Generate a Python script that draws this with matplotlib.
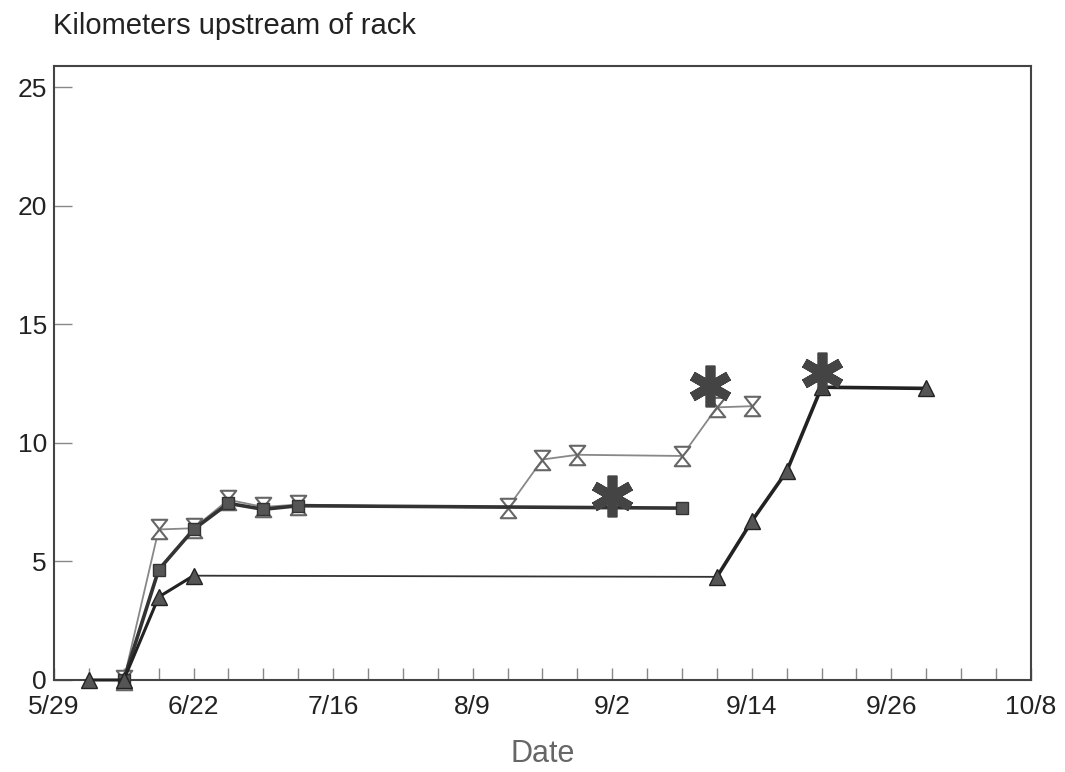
import matplotlib.pyplot as plt
from matplotlib.path import Path

plt.rcParams['font.family'] = ['Liberation Sans', 'DejaVu Sans']

# x positions are minor-tick steps along the date axis (labels every 4 steps)
date_labels = ['5/29', '6/22', '7/16', '8/9', '9/2', '9/14', '9/26', '10/8']

# triangle fish
tri_x = [1, 2, 3, 4, 19, 20, 21, 22, 25]
tri_y = [0, 0, 3.5, 4.4, 4.35, 6.7, 8.8, 12.35, 12.3]

# square fish
sq_x = [2, 3, 4, 5, 6, 7, 18]
sq_y = [0, 4.65, 6.35, 7.45, 7.2, 7.35, 7.25]

# hourglass fish
hg_x = [2, 3, 4, 5, 6, 7, 13, 14, 15, 18, 19, 20]
hg_y = [0, 6.35, 6.4, 7.6, 7.3, 7.4, 7.25, 9.3, 9.5, 9.45, 11.5, 11.55]

# asterisks
star_x = [16, 18.8, 22]
star_y = [7.75, 12.4, 12.95]

hourglass = Path([(-0.8, 1), (0.8, 1), (-0.8, -1), (0.8, -1), (-0.8, 1)],
                 [Path.MOVETO, Path.LINETO, Path.LINETO, Path.LINETO, Path.CLOSEPOLY])

fig = plt.figure(figsize=(10.65, 7.72), dpi=100)
ax = fig.add_axes([0.0507, 0.1192, 0.9173, 0.7953])

ax.plot(hg_x, hg_y, color='#888888', lw=1.3, marker=hourglass, ms=14,
        mfc='white', mec='#666666', mew=1.5, zorder=3, clip_on=False)
ax.plot(sq_x, sq_y, color='#333333', lw=2.6, marker='s', ms=9,
        mfc='#555555', mec='#333333', zorder=4, clip_on=False)
# triangle track: thick climbs, thin long hold
ax.plot(tri_x[:4], tri_y[:4], color='#222222', lw=2.2, zorder=5, clip_on=False)
ax.plot(tri_x[3:5], tri_y[3:5], color='#333333', lw=1.3, zorder=5)
ax.plot(tri_x[4:], tri_y[4:], color='#222222', lw=2.6, zorder=5)
ax.plot(tri_x, tri_y, ls='none', marker='^', ms=12,
        mfc='#555555', mec='#222222', zorder=5, clip_on=False)
ax.plot(star_x, star_y, ls='none', marker=(6, 2, 0), ms=30, mew=7,
        color='#444444', zorder=6)

ax.set_xlim(0, 28)
ax.set_ylim(0, 25.9)
ax.set_xticks(range(0, 29, 4))
ax.set_xticklabels(date_labels)
ax.set_xticks(range(0, 29), minor=True)
ax.set_yticks([0, 5, 10, 15, 20, 25])

ax.tick_params(axis='x', which='both', direction='in', length=9, width=1,
               color='#888888', labelsize=19, labelcolor='#222222', pad=11, top=False)
ax.tick_params(axis='y', direction='in', length=13, width=1, color='#888888',
               labelsize=19, labelcolor='#222222', pad=5, right=False)

for side in ['left', 'right', 'top', 'bottom']:
    ax.spines[side].set_color('#444444')
    ax.spines[side].set_linewidth(1.5)

ax.set_xlabel('Date', fontsize=22, color='#666666', labelpad=14)
fig.text(0.05, 0.985, 'Kilometers upstream of rack', fontsize=21,
         color='#222222', ha='left', va='top')

fig.savefig('out.png', dpi=100)
